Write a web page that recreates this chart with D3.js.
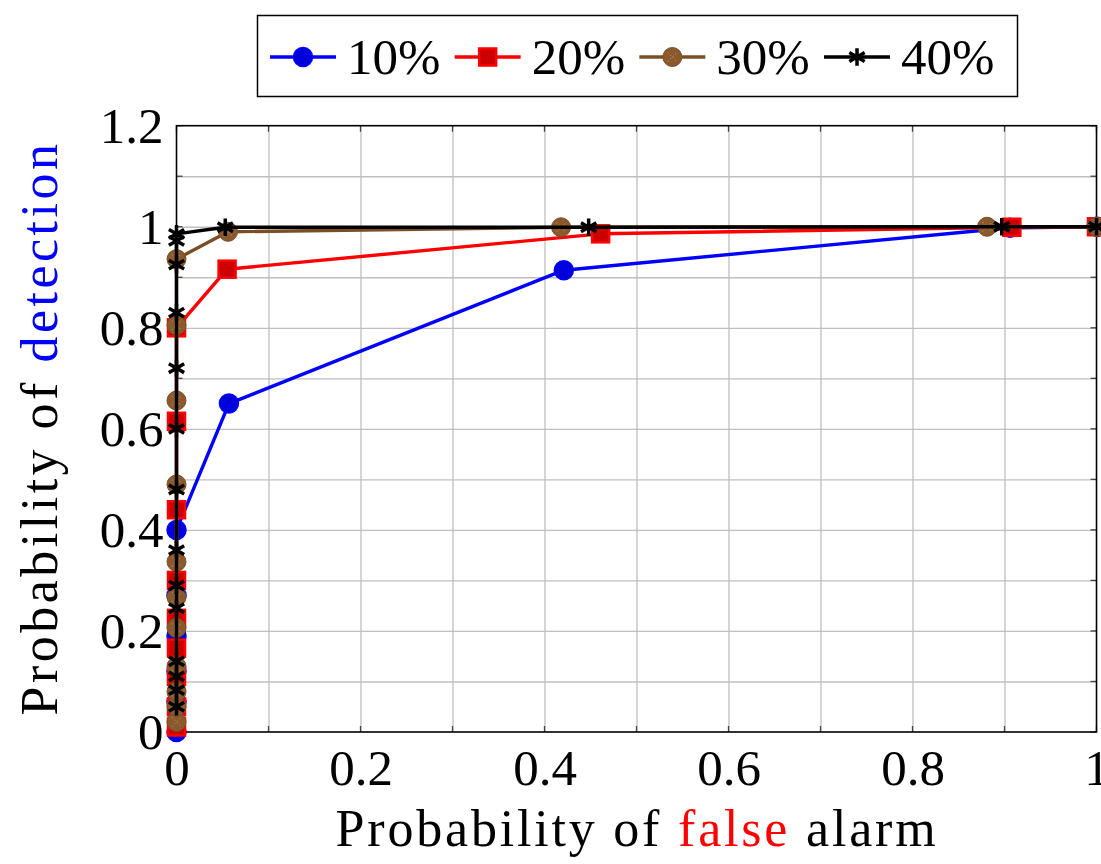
<!DOCTYPE html>
<html>
<head>
<meta charset="utf-8">
<script src="https://cdn.jsdelivr.net/npm/d3@7"></script>
<style>
  body { margin: 0; background: #fff; }
  svg { display: block; }
  text { font-family: "Liberation Serif", "DejaVu Serif", serif; }
</style>
</head>
<body>
<div class="roc"></div>
<script>
// ROC curves: P(false alarm) vs P(detection), one series per percentage
const seriesNames = ['10%', '20%', '30%', '40%']

const fa10 = [0, 0, 0, 0, 0, 0, 0.057, 0.421, 0.906, 1]
const pd10 = [0, 0.06, 0.12, 0.19, 0.27, 0.40, 0.65, 0.914, 0.998, 1]

const fa20 = [0, 0, 0, 0, 0, 0, 0, 0, 0, 0.055, 0.461, 0.908, 1]
const pd20 = [0.01, 0.05, 0.11, 0.166, 0.225, 0.30, 0.44, 0.615, 0.80, 0.916, 0.986, 0.999, 1]

const fa30 = [0, 0, 0, 0, 0, 0, 0, 0, 0, 0, 0, 0.056, 0.418, 0.881, 1]
const pd30 = [0.02, 0.05, 0.08, 0.13, 0.206, 0.267, 0.337, 0.49, 0.656, 0.805, 0.936, 0.99, 0.999, 1, 1]

const fa40 = [0, 0, 0, 0, 0, 0, 0, 0, 0, 0, 0, 0, 0, 0, 0.053, 0.448, 0.897, 1]
const pd40 = [0.05, 0.083, 0.11, 0.14, 0.245, 0.29, 0.36, 0.48, 0.60, 0.72, 0.83, 0.925, 0.972, 0.986, 0.999, 0.999, 1, 1]

const xTicks = [0, 0.2, 0.4, 0.6, 0.8, 1]
const yTicks = [0, 0.2, 0.4, 0.6, 0.8, 1, 1.2]

let width = 1101
let height = 864
const margin = {top: 125.7, right: 4.5, bottom: 132, left: 176.5}
const graphWidth = width - margin.left - margin.right
const graphHeight = height - margin.top - margin.bottom

const styles = [
  {line: '#0000ff', fill: '#0000dd', mark: 'circle'},
  {line: '#ff0000', fill: '#cc0000', mark: 'square'},
  {line: '#7a4f26', fill: '#8a5a2e', mark: 'otimes'},
  {line: '#000000', fill: '#000000', mark: 'asterisk'}
]

const data = [
  d3.zip(fa10, pd10),
  d3.zip(fa20, pd20),
  d3.zip(fa30, pd30),
  d3.zip(fa40, pd40)
]

const svg = d3.select('.roc')
  .append('svg')
  .attr('width', width)
  .attr('height', height)

const graph = svg.append('g')
  .attr('transform', `translate(${margin.left}, ${margin.top})`)

const xScale = d3.scaleLinear().domain([0, 1]).range([0, graphWidth])
const yScale = d3.scaleLinear().domain([0, 1.2]).range([graphHeight, 0])

// grid every 0.1
const gridX = d3.range(1, 10).map(i => i / 10)
const gridY = d3.range(1, 12).map(i => i / 10)

graph.append('g')
  .attr('transform', `translate(0, ${graphHeight})`)
  .call(d3.axisBottom(xScale).tickValues(gridX).tickSize(-graphHeight).tickFormat(''))
  .call(g => g.select('.domain').remove())
  .call(g => g.selectAll('line').attr('stroke', '#bfbfbf').attr('stroke-width', 1.3))

graph.append('g')
  .call(d3.axisLeft(yScale).tickValues(gridY).tickSize(-graphWidth).tickFormat(''))
  .call(g => g.select('.domain').remove())
  .call(g => g.selectAll('line').attr('stroke', '#bfbfbf').attr('stroke-width', 1.3))

// small inward ticks on all four sides
const tickLen = 6
const allX = d3.range(0, 11).map(i => i / 10)
const allY = d3.range(0, 13).map(i => i / 10)
const ticks = graph.append('g').attr('stroke', '#444').attr('stroke-width', 1.3)
allX.forEach(v => {
  ticks.append('line').attr('x1', xScale(v)).attr('x2', xScale(v)).attr('y1', graphHeight).attr('y2', graphHeight - tickLen)
  ticks.append('line').attr('x1', xScale(v)).attr('x2', xScale(v)).attr('y1', 0).attr('y2', tickLen)
})
allY.forEach(v => {
  ticks.append('line').attr('y1', yScale(v)).attr('y2', yScale(v)).attr('x1', 0).attr('x2', tickLen)
  ticks.append('line').attr('y1', yScale(v)).attr('y2', yScale(v)).attr('x1', graphWidth).attr('x2', graphWidth - tickLen)
})

// frame
graph.append('rect')
  .attr('width', graphWidth)
  .attr('height', graphHeight)
  .attr('fill', 'none')
  .attr('stroke', '#000')
  .attr('stroke-width', 1.6)

// tick labels
const xAxisGroup = graph.append('g')
  .attr('transform', `translate(0, ${graphHeight})`)
  .call(d3.axisBottom(xScale).tickValues(xTicks).tickSize(0).tickPadding(13).tickFormat(d => d3.format('')(d)))
xAxisGroup.select('.domain').remove()
xAxisGroup.selectAll('text')
  .attr('font-size', '51px')
  .attr('fill', '#000')
  .attr('dy', '0.78em')

const yAxisGroup = graph.append('g')
  .call(d3.axisLeft(yScale).tickValues(yTicks).tickSize(0).tickPadding(13).tickFormat(d => d3.format('')(d)))
yAxisGroup.select('.domain').remove()
yAxisGroup.selectAll('text')
  .attr('font-size', '51px')
  .attr('fill', '#000')
  .attr('dy', '0.33em')

// axis titles
const xTitle = svg.append('text')
  .attr('x', 637)
  .attr('y', 846)
  .attr('text-anchor', 'middle')
  .attr('font-size', '52px')
  .attr('letter-spacing', '2.8px')
xTitle.append('tspan').text('Probability of ')
xTitle.append('tspan').attr('fill', '#ff0000').text('false')
xTitle.append('tspan').text(' alarm')

const yTitle = svg.append('text')
  .attr('transform', 'translate(57, 428) rotate(-90)')
  .attr('text-anchor', 'middle')
  .attr('font-size', '52px')
  .attr('letter-spacing', '3.5px')
yTitle.append('tspan').text('Probability of ')
yTitle.append('tspan').attr('fill', '#0000ff').text('detection')

// markers
function drawMark(g, st, x, y) {
  if (st.mark === 'circle') {
    g.append('circle').attr('cx', x).attr('cy', y).attr('r', 9.5)
      .attr('fill', st.fill).attr('stroke', st.line).attr('stroke-width', 1.5)
  } else if (st.mark === 'square') {
    g.append('rect').attr('x', x - 8.5).attr('y', y - 8.5).attr('width', 17).attr('height', 17)
      .attr('fill', st.fill).attr('stroke', st.line).attr('stroke-width', 2.5)
  } else if (st.mark === 'otimes') {
    g.append('circle').attr('cx', x).attr('cy', y).attr('r', 9.5)
      .attr('fill', st.fill).attr('stroke', st.line).attr('stroke-width', 1)
    g.append('path').attr('transform', `translate(${x},${y})`)
      .attr('d', d3.symbol(d3.symbolTimes, 60)())
      .attr('fill', 'none').attr('stroke', '#b3804d').attr('stroke-width', 1.2)
      .attr('stroke-dasharray', '1.5,2').attr('opacity', 0.8)
  } else {
    g.append('path').attr('transform', `translate(${x},${y})`)
      .attr('d', d3.symbol(d3.symbolAsterisk, 220)())
      .attr('fill', 'none').attr('stroke', '#000').attr('stroke-width', 3.5)
  }
}

const line = d3.line()
  .x(d => xScale(d[0]))
  .y(d => yScale(d[1]))

data.forEach((series, i) => {
  const st = styles[i]
  const g = graph.append('g')
  g.append('path')
    .datum(series)
    .attr('d', line)
    .attr('fill', 'none')
    .attr('stroke', st.line)
    .attr('stroke-width', 3.4)
    .attr('stroke-linejoin', 'round')
  series.forEach(d => drawMark(g, st, xScale(d[0]), yScale(d[1])))
})

// legend
const legend = svg.append('g')
legend.append('rect')
  .attr('x', 257.5)
  .attr('y', 15.5)
  .attr('width', 760)
  .attr('height', 81)
  .attr('fill', '#fff')
  .attr('stroke', '#000')
  .attr('stroke-width', 1.5)

const legendX = d3.scaleLinear().domain([0, 3]).range([270, 824])
seriesNames.forEach((name, i) => {
  const st = styles[i]
  const x0 = legendX(i)
  const yc = 57
  legend.append('line')
    .attr('x1', x0).attr('x2', x0 + 66)
    .attr('y1', yc).attr('y2', yc)
    .attr('stroke', st.line).attr('stroke-width', 3.4)
  drawMark(legend, st, x0 + 33, yc)
  legend.append('text')
    .attr('x', x0 + 77)
    .attr('y', yc + 17)
    .attr('font-size', '51px')
    .text(name)
})
</script>
</body>
</html>
